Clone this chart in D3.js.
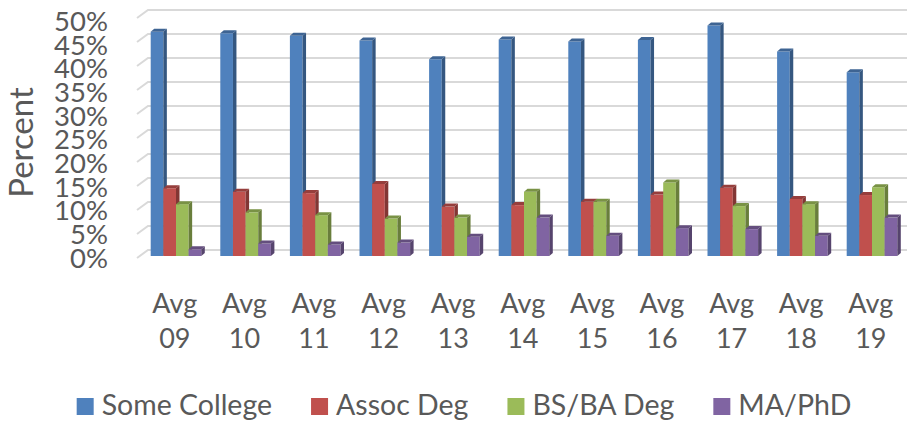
<!DOCTYPE html>
<html>
<head>
<meta charset="utf-8">
<script src="https://cdn.jsdelivr.net/npm/d3@7"></script>
<style>
  body { margin: 0; background: #fff; }
  svg { display: block; }
  text { font-family: Lato, "Open Sans", sans-serif; fill: #595959; }
</style>
</head>
<body>
<svg width="907" height="421"></svg>
<script>
  const categories = ['Avg 09', 'Avg 10', 'Avg 11', 'Avg 12', 'Avg 13', 'Avg 14', 'Avg 15', 'Avg 16', 'Avg 17', 'Avg 18', 'Avg 19'];
  const seriesNames = ['Some College', 'Assoc Deg', 'BS/BA Deg', 'MA/PhD'];
  const someCollege = [46.7, 46.4, 45.9, 44.9, 41.0, 45.1, 44.7, 45.0, 48.0, 42.6, 38.3];
  const assocDeg = [14.1, 13.4, 13.1, 15.0, 10.3, 10.6, 11.3, 12.8, 14.2, 11.9, 12.7];
  const bsBaDeg = [10.8, 9.1, 8.5, 7.8, 8.0, 13.4, 11.3, 15.3, 10.4, 10.8, 14.3];
  const maPhd = [1.4, 2.6, 2.4, 2.8, 4.0, 8.0, 4.2, 5.8, 5.6, 4.2, 8.0];
  const yTicks = [0, 5, 10, 15, 20, 25, 30, 35, 40, 45, 50];

  const seriesValues = [someCollege, assocDeg, bsBaDeg, maPhd];
  const colors = ['#4f81bd', '#c0504d', '#9bbb59', '#8064a2'];

  const svg = d3.select('svg');

  // 3d look: bars sit in front of the back wall
  const depthX = 3.5, depthY = -3;
  const yFront = d3.scaleLinear().domain([0, 50]).range([256, 16]);
  const yBack = d3.scaleLinear().domain([0, 50]).range([250, 10]);
  const yLabel = d3.scaleLinear().domain([0, 50]).range([258.5, 21.5]);

  const x0 = d3.scaleBand().domain(categories).range([140, 905.6]);
  const x1 = d3.scaleBand().domain(seriesNames).range([10.7, 61.3]);

  // gridlines on the back wall with the little slanted side wall edge
  const grid = svg.append('g').attr('class', 'grid');
  grid.selectAll('path')
    .data(yTicks)
    .enter().append('path')
      .attr('d', d => `M137,${yBack(d) + 8}L148,${yBack(d)}L907,${yBack(d)}`)
      .attr('fill', 'none')
      .attr('stroke', '#d9d9d9')
      .attr('stroke-width', 2);

  // y axis labels
  const yAxis = d3.axisLeft(yLabel)
    .tickValues(yTicks)
    .tickSize(0)
    .tickPadding(0)
    .tickFormat(d => d + '%');
  const yG = svg.append('g')
    .attr('transform', 'translate(108,0)')
    .call(yAxis);
  yG.select('.domain').remove();
  yG.selectAll('text')
    .attr('font-family', null)
    .style('font-size', '27.5px')
    .style('fill', '#595959');

  svg.append('text')
    .attr('transform', 'translate(33,142.5) rotate(-90)')
    .attr('text-anchor', 'middle')
    .style('font-size', '33px')
    .text('Percent');

  // bars
  const rows = [];
  categories.forEach((c, i) => {
    seriesNames.forEach((s, j) => {
      rows.push({ cat: c, series: s, value: seriesValues[j][i], color: colors[j] });
    });
  });

  const w = x1.bandwidth();
  const bars = svg.append('g').selectAll('g')
    .data(rows)
    .enter().append('g');

  bars.append('path')
    .attr('d', d => {
      const x = x0(d.cat) + x1(d.series), yt = yFront(d.value), yb = yFront(0);
      return `M${x},${yb}L${x},${yt}L${x + w},${yt}L${x + w},${yb}Z`;
    })
    .attr('fill', d => d.color);

  bars.append('path')
    .attr('d', d => {
      const x = x0(d.cat) + x1(d.series) + w, yt = yFront(d.value), yb = yFront(0);
      return `M${x},${yb}L${x + depthX},${yb + depthY}L${x + depthX},${yt + depthY}L${x},${yt}Z`;
    })
    .attr('fill', d => d3.color(d.color).darker(1.1));

  bars.append('path')
    .attr('d', d => {
      const x = x0(d.cat) + x1(d.series), yt = yFront(d.value);
      return `M${x},${yt}L${x + depthX},${yt + depthY}L${x + w + depthX},${yt + depthY}L${x + w},${yt}Z`;
    })
    .attr('fill', d => d3.color(d.color).darker(0.7));

  // category labels on two lines
  const xLabels = svg.append('g').selectAll('text')
    .data(categories)
    .enter().append('text')
      .attr('text-anchor', 'middle')
      .style('font-size', '27px');
  xLabels.append('tspan')
    .attr('x', d => x0(d) + x0.bandwidth() / 2)
    .attr('y', 313)
    .text(d => d.split(' ')[0]);
  xLabels.append('tspan')
    .attr('x', d => x0(d) + x0.bandwidth() / 2)
    .attr('y', 348)
    .text(d => d.split(' ')[1]);

  // legend
  const legend = svg.append('g');
  const items = legend.selectAll('g')
    .data(seriesNames)
    .enter().append('g');
  items.append('rect')
    .attr('width', 17)
    .attr('height', 17)
    .attr('y', 398)
    .attr('fill', (d, i) => colors[i]);
  items.append('text')
    .attr('x', 25)
    .attr('y', 415)
    .style('font-size', '28.5px')
    .text(d => d);

  let offset = 0;
  const widths = [];
  items.each(function () {
    const tw = d3.select(this).select('text').node().getComputedTextLength();
    widths.push(25 + tw);
  });
  const gap = 39;
  const total = d3.sum(widths) + gap * (widths.length - 1);
  offset = 464 - total / 2;
  items.attr('transform', (d, i) => {
    const t = `translate(${offset},0)`;
    offset += widths[i] + gap;
    return t;
  });
</script>
</body>
</html>
